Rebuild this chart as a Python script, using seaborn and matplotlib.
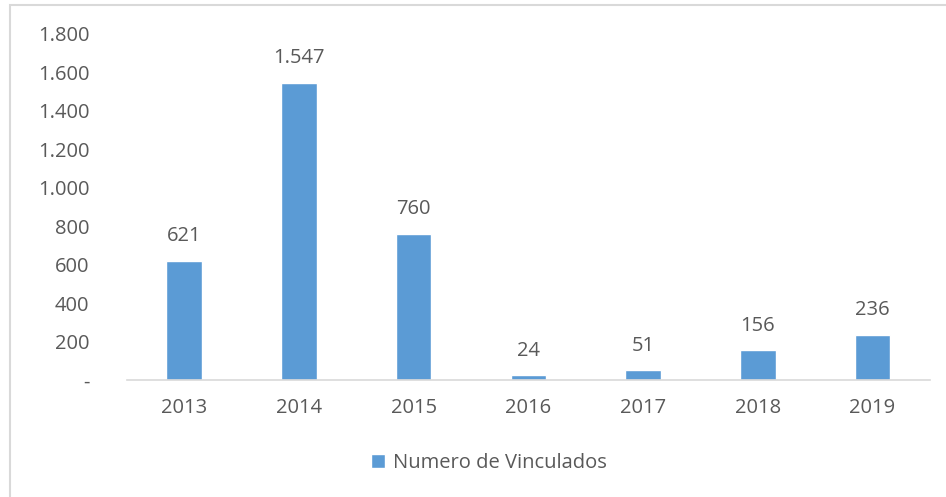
import matplotlib.pyplot as plt
from matplotlib.patches import Rectangle
from matplotlib.ticker import FuncFormatter
import seaborn as sns
import pandas as pd

anos = ['2013', '2014', '2015', '2016', '2017', '2018', '2019']
vinculados = [621, 1547, 760, 24, 51, 156, 236]
rotulos = ['621', '1.547', '760', '24', '51', '156', '236']
y_ticks = [0, 200, 400, 600, 800, 1000, 1200, 1400, 1600, 1800]

sns.set_style("white")
plt.rcParams['font.family'] = ['Open Sans', 'DejaVu Sans']
cinza = '#595959'
azul = '#5B9BD5'
tam = 14.5

df = pd.DataFrame({'ano': anos, 'valor': vinculados})

fig = plt.figure(figsize=(9.46, 4.97), dpi=100)
ax = fig.add_axes([0.134, 0.2354, 0.849, 0.6962])

sns.barplot(data=df, x='ano', y='valor', color=azul, width=0.31,
            saturation=1, ax=ax, label='Numero de Vinculados')

for i, (v, r) in enumerate(zip(vinculados, rotulos)):
    ax.text(i, v + 75, r, ha='center', va='bottom', fontsize=tam, color=cinza)

def fmt(v, pos):
    if v == 0:
        return '-'
    return '{:,.0f}'.format(v).replace(',', '.')

ax.set_ylim(0, 1800)
ax.set_xlim(-0.5, 6.5)
ax.set_yticks(y_ticks)
ax.yaxis.set_major_formatter(FuncFormatter(fmt))
ax.tick_params(axis='y', length=0, pad=27, labelsize=tam, labelcolor=cinza)
ax.tick_params(axis='x', length=0, pad=13, labelsize=tam, labelcolor=cinza)
ax.set_xlabel('')
ax.set_ylabel('')
for s in ['top', 'right', 'left']:
    ax.spines[s].set_visible(False)
ax.spines['bottom'].set_color('#D9D9D9')
ax.spines['bottom'].set_linewidth(1.2)

ax.legend(loc='center', bbox_to_anchor=(0.517, 0.068), bbox_transform=fig.transFigure,
          frameon=False, fontsize=tam, handlelength=0.7, handleheight=0.7,
          handletextpad=0.4, labelcolor=cinza)

fig.patches.append(Rectangle((10 / 946, -0.1), 1.2, 1 - 5 / 497 + 0.1,
                             transform=fig.transFigure, fill=False,
                             edgecolor='#D9D9D9', linewidth=1.5))

fig.savefig('out.png', dpi=100)
